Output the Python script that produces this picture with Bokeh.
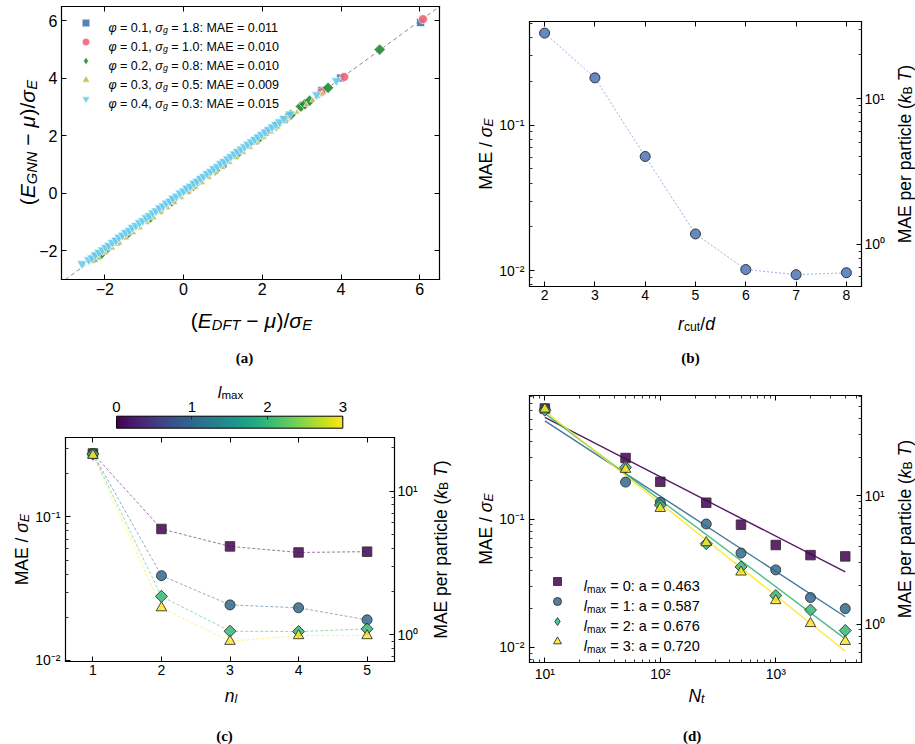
import math

import numpy as np
from bokeh.core.properties import value
from bokeh.embed import file_html
from bokeh.layouts import column, row
from bokeh.models import (CustomJSTickFormatter, FixedTicker, Label, Legend, LegendItem,
                          LinearAxis, LinearScale, LogAxis, LogScale, Range1d)
from bokeh.palettes import Viridis256
from bokeh.plotting import figure
from bokeh.resources import INLINE

# ---------------------------------------------------------------- data
# (a) parity plot, one series per (phi, sigma_g) dataset
PHI = [0.1, 0.1, 0.2, 0.3, 0.4]
SIGMA_G = [1.8, 1.0, 0.8, 0.5, 0.3]
MAE_SET = [0.011, 0.010, 0.010, 0.009, 0.015]

E_DFT_1 = [-2.28, -2.18, -1.70, -0.90, 0.10, 1.00, 1.80, 2.55, 3.51, 3.99, 6.02]
E_GNN_1 = [-2.26, -2.15, -1.69, -0.88, 0.12, 1.02, 1.82, 2.57, 3.58, 4.01, 5.94]

E_DFT_2 = [-2.20, -2.05, -1.50, -0.60, 0.40, 1.30, 2.10, 2.68, 3.50, 4.08, 6.08]
E_GNN_2 = [-2.16, -2.02, -1.47, -0.57, 0.43, 1.33, 2.13, 2.72, 3.52, 4.05, 6.06]

E_DFT_3 = [-2.25, -2.12, -1.95, -1.40, -0.85, -0.30, 0.25, 0.80, 1.35, 1.90, 2.35,
           2.72, 2.98, 3.08, 3.20, 3.67, 4.98]
E_GNN_3 = [-2.22, -2.15, -1.93, -1.38, -0.84, -0.28, 0.26, 0.80, 1.36, 1.90, 2.36,
           2.73, 3.02, 3.10, 3.22, 3.67, 5.00]

E_DFT_4 = [-2.30, -2.15, -1.98, -1.80, -1.62, -1.45, -1.27, -1.10, -0.92, -0.75, -0.57,
           -0.40, -0.22, -0.05, 0.13, 0.30, 0.48, 0.65, 0.83, 1.00, 1.18, 1.35, 1.53,
           1.70, 1.88, 2.05, 2.23, 2.40, 2.62, 2.88, 3.12, 3.28, 3.42, 3.52]
E_GNN_4 = [-2.38, -2.25, -2.08, -1.91, -1.73, -1.56, -1.38, -1.21, -1.03, -0.86, -0.68,
           -0.51, -0.33, -0.16, 0.02, 0.19, 0.37, 0.54, 0.72, 0.89, 1.07, 1.24, 1.42,
           1.59, 1.77, 1.94, 2.12, 2.30, 2.54, 2.82, 3.08, 3.24, 3.36, 3.47]

E_DFT_5 = [-2.58, -2.41, -2.33, -2.24, -2.15, -2.06, -1.98, -1.90, -1.81, -1.72, -1.64,
           -1.55, -1.47, -1.38, -1.30, -1.21, -1.12, -1.04, -0.95, -0.87, -0.78, -0.70,
           -0.61, -0.52, -0.44, -0.35, -0.27, -0.18, -0.09, 0.00, 0.08, 0.17, 0.26, 0.34,
           0.43, 0.51, 0.60, 0.69, 0.77, 0.86, 0.94, 1.03, 1.12, 1.20, 1.29, 1.37, 1.46,
           1.55, 1.63, 1.72, 1.81, 1.89, 1.98, 2.07, 2.16, 2.25, 2.34, 2.44, 2.55, 2.70,
           3.38, 3.88]
E_GNN_5 = [-2.45, -2.31, -2.25, -2.14, -2.05, -1.97, -1.88, -1.81, -1.71, -1.63, -1.53,
           -1.46, -1.36, -1.29, -1.19, -1.12, -1.02, -0.95, -0.85, -0.78, -0.68, -0.61,
           -0.51, -0.44, -0.34, -0.27, -0.17, -0.10, 0.01, 0.08, 0.18, 0.25, 0.35, 0.42,
           0.52, 0.59, 0.69, 0.76, 0.86, 0.93, 1.03, 1.11, 1.20, 1.28, 1.37, 1.45, 1.54,
           1.62, 1.71, 1.79, 1.88, 1.96, 2.05, 2.13, 2.22, 2.31, 2.40, 2.49, 2.60, 2.76,
           3.43, 3.92]

# (b) error vs. cutoff radius
RCUT = [2, 3, 4, 5, 6, 7, 8]
MAE_RCUT = [0.428, 0.211, 0.0609, 0.0179, 0.0102, 0.0094, 0.0097]

# (c) error vs. number of layers, per l_max
N_LAYERS = [1, 2, 3, 4, 5]
MAE_NL_L0 = [0.277, 0.0825, 0.0624, 0.0566, 0.0573]
MAE_NL_L1 = [0.277, 0.0390, 0.0244, 0.0233, 0.0192]
MAE_NL_L2 = [0.274, 0.0280, 0.0160, 0.0159, 0.0166]
MAE_NL_L3 = [0.269, 0.0233, 0.0136, 0.0149, 0.0149]

# (d) learning curves, per l_max, with power-law fits MAE = C * N^-a
N_TRAIN = [10, 50, 100, 250, 500, 1000, 2000, 4000]
MAE_NT_L0 = [0.728, 0.299, 0.195, 0.134, 0.0903, 0.0627, 0.0523, 0.0511]
MAE_NT_L1 = [0.720, 0.194, 0.135, 0.0914, 0.0543, 0.0401, 0.0244, 0.0200]
MAE_NT_L2 = [0.706, 0.253, 0.1285, 0.0642, 0.0423, 0.0253, 0.0195, 0.0135]
MAE_NT_L3 = [0.720, 0.244, 0.121, 0.0654, 0.0386, 0.0231, 0.0153, 0.0111]
L_MAX = [0, 1, 2, 3]
FIT_EXPONENT = [0.463, 0.587, 0.676, 0.720]
FIT_PREFACTOR = [1.80, 2.25, 3.16, 3.65]

# MAE in units of sigma_E -> MAE per particle in k_B T
KBT_PER_SIGMA = 66.0

# ---------------------------------------------------------------- styling helpers
FONT = "Liberation Sans"
SERIF = "Liberation Serif"
TOL = ["#4477AA", "#EE6677", "#228833", "#CCBB44", "#66CCEE"]
VIRIDIS4 = ["#440154", "#31688e", "#35b779", "#fde725"]
EDGE = "#333333"
H = 372  # height of every panel canvas

ADV = {" ": .278, "(": .333, ")": .333, ",": .278, ".": .278, "/": .278, ":": .278,
       "=": .584, "\u2212": .584, "\u03bc": .576, "\u03c3": .62, "\u03c6": .65}
for _c in "0123456789":
    ADV[_c] = .556
ADV.update(zip("ABCDEFGHIJKLMNOPQRSTUVWXYZ",
               [.667, .667, .722, .722, .667, .611, .778, .722, .278, .5, .667, .556, .833,
                .722, .778, .667, .778, .722, .667, .611, .722, .667, .944, .667, .667, .611]))
ADV.update(zip("abcdefghijklmnopqrstuvwxyz",
               [.556, .556, .5, .556, .556, .278, .556, .556, .222, .222, .5, .222, .833,
                .556, .556, .556, .556, .333, .5, .278, .556, .5, .722, .5, .5, .5]))


def advance(s, size):
    return sum(ADV.get(ch, 0.556) for ch in s) * size


def rich_label(p, x, y, parts, size, angle=0.0, align="center"):
    """Text with italic / subscript runs, positioned in canvas pixels (y up)."""
    sizes = [size * (0.7 if st.startswith("s") else 1.0) for _, st in parts]
    widths = [advance(t, s) for (t, _), s in zip(parts, sizes)]
    total = sum(widths)
    pos = {"left": 0.0, "center": -total / 2, "right": -total}[align]
    ux, uy = math.cos(angle), math.sin(angle)
    vx, vy = -math.sin(angle), math.cos(angle)
    for (t, st), s, w in zip(parts, sizes, widths):
        core = t.strip(" ")
        if core:
            lead = len(t) - len(t.lstrip(" "))
            x0 = pos + lead * ADV[" "] * s
            drop = 0.22 * size if st.startswith("s") else 0.0
            p.add_layout(Label(
                x=x + ux * x0 - vx * drop, y=y + uy * x0 - vy * drop,
                x_units="screen", y_units="screen", text=core, angle=angle,
                text_font=FONT, text_font_size=f"{s:.1f}px",
                text_font_style="italic" if "i" in st else "normal",
                text_align="left", text_baseline="alphabetic", text_color="black"))
        pos += w


def panel_tag(p, x, y, tag):
    p.add_layout(Label(x=x, y=y, x_units="screen", y_units="screen", text=tag,
                       text_font=SERIF, text_font_style="bold", text_font_size="15px",
                       text_align="center", text_baseline="alphabetic", text_color="black"))


LOG_FMT = CustomJSTickFormatter(code="""
const sup = {"-": "\u207b", "0": "\u2070", "1": "\u00b9", "2": "\u00b2", "3": "\u00b3",
             "4": "\u2074", "5": "\u2075"};
const e = Math.round(Math.log10(tick));
return "10" + String(e).split("").map(c => sup[c]).join("");
""")
LIN_FMT = CustomJSTickFormatter(code="""
return tick < 0 ? "\u2212" + String(-tick) : String(tick);
""")


def blank_fmt():
    return CustomJSTickFormatter(code="return '';")


def minor_decades(e0, e1):
    return [m * 10.0 ** e for e in range(e0, e1) for m in range(2, 10)]


def outer_range(lo, hi, p0, p1, total, log):
    """Extend [lo, hi] (drawn between pixels p0 and p1) to a span of `total` pixels."""
    a, b = (math.log10(lo), math.log10(hi)) if log else (lo, hi)
    per_px = (b - a) / (p1 - p0)
    s, e = a - p0 * per_px, b + (total - p1) * per_px
    return (10 ** s, 10 ** e) if log else (s, e)


def make_panel(width, box, xlim, ylim, xlog=False, ylog=False):
    left, top, right, bottom = box
    xr = outer_range(xlim[0], xlim[1], left, right, width, xlog)
    yr = outer_range(ylim[0], ylim[1], H - bottom, H - top, H, ylog)
    p = figure(width=width, height=H, x_range=Range1d(*xr), y_range=Range1d(*yr),
               x_axis_type="log" if xlog else "linear",
               y_axis_type="log" if ylog else "linear",
               x_axis_location=None, y_axis_location=None, min_border=0, title=None,
               output_backend="svg", toolbar_location=None,
               background_fill_color="white", border_fill_color="white")
    p.grid.visible = False
    p.outline_line_color = None
    return p


def add_axis(p, side, ticks, minor, fixed, bounds, log, fmt, size=14, standoff=3,
             range_name=None, tick_in=5):
    cls = LogAxis if log else LinearAxis
    kw = {}
    if range_name is not None:
        kw["y_range_name" if side in ("left", "right") else "x_range_name"] = range_name
    lo, hi = bounds
    inside = [t for t in ticks if lo <= t <= hi]
    minor_inside = [t for t in minor if lo <= t <= hi]
    ax = cls(ticker=FixedTicker(ticks=inside, minor_ticks=minor_inside),
             formatter=fmt if fmt is not None else blank_fmt(),
             fixed_location=fixed, bounds=(lo, hi), **kw)
    ax.major_tick_in = tick_in
    ax.major_tick_out = 0
    ax.minor_tick_in = 3
    ax.minor_tick_out = 0
    ax.major_tick_line_color = "black"
    ax.minor_tick_line_color = "black"
    ax.major_tick_line_width = 1
    ax.minor_tick_line_width = 0.8
    ax.axis_line_color = "black"
    ax.axis_line_width = 1.2
    ax.axis_line_cap = "square"
    ax.major_label_text_font = FONT
    ax.major_label_text_font_size = f"{size}px"
    ax.major_label_text_color = "black"
    ax.major_label_standoff = standoff
    p.add_layout(ax, side)
    return ax


def kbt_axis(p, xlim, ylim):
    # same pixel mapping as the MAE axis, rescaled to k_B T per particle
    p.extra_y_ranges = {"kbt": Range1d(p.y_range.start * KBT_PER_SIGMA,
                                       p.y_range.end * KBT_PER_SIGMA)}
    p.extra_y_scales = {"kbt": LogScale()}
    lo, hi = ylim[0] * KBT_PER_SIGMA, ylim[1] * KBT_PER_SIGMA
    add_axis(p, "right", [1, 10], minor_decades(-1, 2), xlim[1], (lo, hi), True, LOG_FMT,
             14, 3, range_name="kbt")


def mae_labels(p, x_left, x_right, y_mid):
    rich_label(p, x_left, y_mid, [("MAE / ", "r"), ("\u03c3", "i"), ("E", "si")],
               17.5, angle=math.pi / 2)
    rich_label(p, x_right, y_mid,
               [("MAE per particle (", "r"), ("k", "i"), ("B", "s"), (" ", "r"),
                ("T", "i"), (")", "r")], 17.5, angle=math.pi / 2)


def key_renderer(p, marker, **style):
    """A glyph with a single unplotted (NaN) point, used only as a legend key."""
    nan = np.array([np.nan])
    return p.scatter(nan, nan, marker=marker, **style)


def legend_keys(p, renderers, location, key):
    leg = Legend(items=[LegendItem(label=value(""), renderers=[r]) for r in renderers],
                 location=location, glyph_width=key, glyph_height=key, spacing=0,
                 padding=0, margin=0, label_width=0, label_height=key, label_standoff=0,
                 border_line_color=None, background_fill_alpha=0)
    p.add_layout(leg)


MARKERS = [("square", 9.5, 0.0), ("circle", 10, 0.0), ("square", 8.5, math.pi / 4),
           ("triangle", 10.5, 0.0)]
# legend keys are drawn unrotated, so the rotated-square series uses a diamond key
KEY_MARKERS = ["square", "circle", "diamond", "triangle"]

# ---------------------------------------------------------------- (a) parity plot
AXL, AYL = (-3.1, 6.5), (-3.0, 6.5)
pa = make_panel(460, (61, 6, 439, 279), AXL, AYL)
add_axis(pa, "below", [-2, 0, 2, 4, 6], [], AYL[0], AXL, False, LIN_FMT, 16, 3)
add_axis(pa, "above", [-2, 0, 2, 4, 6], [], AYL[1], AXL, False, None)
add_axis(pa, "left", [-2, 0, 2, 4, 6], [], AXL[0], AYL, False, LIN_FMT, 16, 4)
add_axis(pa, "right", [-2, 0, 2, 4, 6], [], AXL[1], AYL, False, None)

diag = [max(AXL[0], AYL[0]), min(AXL[1], AYL[1])]
pa.line(diag, diag, line_color="#888888", line_dash="4 3", line_width=1)

series_a = [
    (E_DFT_1, E_GNN_1, "square", 8, 0.0),
    (E_DFT_2, E_GNN_2, "circle", 9, 0.0),
    (E_DFT_3, E_GNN_3, "square", 8, math.pi / 4),
    (E_DFT_4, E_GNN_4, "triangle", 6, 0.0),
    (E_DFT_5, E_GNN_5, "inverted_triangle", 10, 0.0),
]
keys_a = []
for (xs, ys, mk, sz, ang), col in zip(series_a, TOL):
    pa.scatter(xs, ys, marker=mk, size=sz, angle=ang, fill_color=col,
               fill_alpha=0.9, line_color="white", line_width=0.6)
    keys_a.append(key_renderer(pa, "diamond" if ang else mk, fill_color=col,
                               fill_alpha=0.9, line_color="white", line_width=0.6))
legend_keys(pa, keys_a, (75.5, 263.8), 19)
for i, (phi, sg, mae) in enumerate(zip(PHI, SIGMA_G, MAE_SET)):
    rich_label(pa, 108, 344.8 - 19 * i,
               [("\u03c6", "i"), (f" = {phi:.1f}, ", "r"), ("\u03c3", "i"), ("g", "si"),
                (f" = {sg:.1f}: MAE = {mae:.3f}", "r")], 12.5, align="left")

rich_label(pa, 251, 52,
           [("(", "r"), ("E", "i"), ("DFT", "si"), (" \u2212 ", "r"), ("\u03bc", "i"),
            (")/", "r"), ("\u03c3", "i"), ("E", "si")], 21)
rich_label(pa, 27, 230,
           [("(", "r"), ("E", "i"), ("GNN", "si"), (" \u2212 ", "r"), ("\u03bc", "i"),
            (")/", "r"), ("\u03c3", "i"), ("E", "si")], 21, angle=math.pi / 2)
panel_tag(pa, 244, 15, "(a)")

# ---------------------------------------------------------------- (b) cutoff radius
BXL, BYL = (1.7, 8.3), (0.0078, 0.514)
pb = make_panel(455, (69, 21, 401, 286), BXL, BYL, ylog=True)
add_axis(pb, "below", RCUT, [], BYL[0], BXL, False, LIN_FMT, 14, 3)
add_axis(pb, "above", RCUT, [], BYL[1], BXL, False, None)
add_axis(pb, "left", [0.01, 0.1], minor_decades(-3, 0), BXL[0], BYL, True, LOG_FMT, 14, 5)
kbt_axis(pb, BXL, BYL)
pb.line(RCUT, MAE_RCUT, line_color="#7f9fd4", line_width=1, line_dash="2 2",
        line_alpha=0.8)
pb.scatter(RCUT, MAE_RCUT, marker="circle", size=10, fill_color="#6589c2",
           line_color=EDGE, line_width=1)
rich_label(pb, 236, 49, [("r", "i"), ("cut", "s"), ("/", "r"), ("d", "i")], 17.5)
mae_labels(pb, 25, 444, 218.5)
panel_tag(pb, 230, 15, "(b)")

# ---------------------------------------------------------------- (c) number of layers
CXL, CYL = (0.6, 5.4), (0.00984, 0.358)
pc = make_panel(460, (65, 65, 394, 289), CXL, CYL, ylog=True)
add_axis(pc, "below", N_LAYERS, [], CYL[0], CXL, False, LIN_FMT, 14, 3)
add_axis(pc, "above", N_LAYERS, [], CYL[1], CXL, False, None)
add_axis(pc, "left", [0.01, 0.1], minor_decades(-3, 0), CXL[0], CYL, True, LOG_FMT, 14, 5)
kbt_axis(pc, CXL, CYL)

for ys, col in zip([MAE_NL_L0, MAE_NL_L1, MAE_NL_L2, MAE_NL_L3], VIRIDIS4):
    pc.line(N_LAYERS, ys, line_color=col, line_width=0.9, line_dash="3 2", line_alpha=0.6)
for ys, col, (mk, sz, ang) in zip([MAE_NL_L0, MAE_NL_L1, MAE_NL_L2, MAE_NL_L3],
                                  VIRIDIS4, MARKERS):
    pc.scatter(N_LAYERS, ys, marker=mk, size=sz, angle=ang, fill_color=col,
               fill_alpha=0.85, line_color=EDGE, line_width=0.9)

# colour bar for l_max, drawn on its own pair of linear ranges above the frame
pc.extra_x_ranges = {"cb": Range1d(*outer_range(L_MAX[0], L_MAX[-1], 116, 342.3, 460,
                                                False))}
pc.extra_x_scales = {"cb": LinearScale()}
pc.extra_y_ranges = {"kbt": pc.extra_y_ranges["kbt"],
                     "cby": Range1d(*outer_range(0, 1, H - 55.7, H - 43.7, H, False))}
pc.extra_y_scales = {"kbt": pc.extra_y_scales["kbt"], "cby": LinearScale()}
pc.image(image=[np.linspace(0.0, 1.0, 256).reshape(1, -1)], x=L_MAX[0], y=0,
         dw=L_MAX[-1] - L_MAX[0], dh=1, palette=Viridis256,
         x_range_name="cb", y_range_name="cby")
pc.quad(left=L_MAX[0], right=L_MAX[-1], bottom=0, top=1, fill_color=None,
        line_color="black", line_width=1, x_range_name="cb", y_range_name="cby")
cb_ax = add_axis(pc, "above", L_MAX, [], 1, (L_MAX[0], L_MAX[-1]), False, LIN_FMT, 15, 4,
                 range_name="cb", tick_in=3)
cb_ax.y_range_name = "cby"
cb_ax.axis_line_color = None
cb_ax.major_tick_line_color = "#222222"
rich_label(pc, 230, 353, [("l", "i"), ("max", "s")], 16.5)

rich_label(pc, 230.5, 49, [("n", "i"), ("l", "si")], 17.5)
mae_labels(pc, 21, 440, 195)
panel_tag(pc, 224, 9, "(c)")

# ---------------------------------------------------------------- (d) training-set size
DXL, DYL = (7.36, 5530), (0.0076, 0.919)
pd_ = make_panel(455, (69, 23, 401, 290), DXL, DYL, xlog=True, ylog=True)
add_axis(pd_, "below", [10, 100, 1000], minor_decades(0, 4), DYL[0], DXL, True, LOG_FMT,
         14, 3)
add_axis(pd_, "above", [10, 100, 1000], minor_decades(0, 4), DYL[1], DXL, True, None)
add_axis(pd_, "left", [0.01, 0.1], minor_decades(-3, 0), DXL[0], DYL, True, LOG_FMT, 14, 5)
kbt_axis(pd_, DXL, DYL)

n_ends = [N_TRAIN[0], N_TRAIN[-1]]
for c, a, col in zip(FIT_PREFACTOR, FIT_EXPONENT, VIRIDIS4):
    pd_.line(n_ends, [c * n ** (-a) for n in n_ends], line_color=col, line_width=1.4,
             line_alpha=0.9)
keys_d = []
for ys, col, (mk, sz, ang), key_mk in zip([MAE_NT_L0, MAE_NT_L1, MAE_NT_L2, MAE_NT_L3],
                                          VIRIDIS4, MARKERS, KEY_MARKERS):
    pd_.scatter(N_TRAIN, ys, marker=mk, size=sz, angle=ang, fill_color=col,
                fill_alpha=0.85, line_color=EDGE, line_width=0.9)
    keys_d.append(key_renderer(pd_, key_mk, fill_color=col, fill_alpha=0.85,
                               line_color=EDGE, line_width=0.9))
legend_keys(pd_, keys_d, (86.7, 93.3), 20)
for i, (lm, a) in enumerate(zip(L_MAX, FIT_EXPONENT)):
    rich_label(pd_, 123.3, 158.1 - 20 * i,
               [("l", "i"), ("max", "s"), (f" = {lm}: a = {a:.3f}", "r")], 14.5,
               align="left")
rich_label(pd_, 236, 49, [("N", "i"), ("t", "si")], 17.5)
mae_labels(pd_, 25, 444, 215.5)
panel_tag(pd_, 231.7, 9, "(d)")

# ---------------------------------------------------------------- page
layout = row(column(pa, pc, spacing=0), column(pb, pd_, spacing=0), spacing=0)
with open("out.html", "w") as fh:
    fh.write(file_html(layout, INLINE, title="GNN energy errors"))
